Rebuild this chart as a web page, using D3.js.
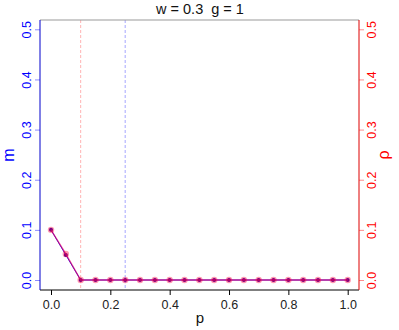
<!DOCTYPE html>
<html>
<head>
<meta charset="utf-8">
<script src="https://cdn.jsdelivr.net/npm/d3@7"></script>
<style>
  body { margin: 0; background: #fff; }
  text { font-family: "Liberation Sans", Arial, sans-serif; }
</style>
</head>
<body>
<svg class="chart" width="399" height="330"></svg>
<script>
// data
let pValues = [0, 0.05, 0.1, 0.15, 0.2, 0.25, 0.3, 0.35, 0.4, 0.45, 0.5,
               0.55, 0.6, 0.65, 0.7, 0.75, 0.8, 0.85, 0.9, 0.95, 1.0];
let mValues = [0.1, 0.05, 0, 0, 0, 0, 0, 0, 0, 0, 0, 0, 0, 0, 0, 0, 0, 0, 0, 0, 0];
let rhoValues = [0.1, 0.052, 0, 0, 0, 0, 0, 0, 0, 0, 0, 0, 0, 0, 0, 0, 0, 0, 0, 0, 0];
let xTicks = [0, 0.2, 0.4, 0.6, 0.8, 1.0];
let yTicks = [0, 0.1, 0.2, 0.3, 0.4, 0.5];
let redLineP = 0.1;
let blueLineP = 0.25;
let title = "w = 0.3  g = 1";

var svg = d3.select(".chart");
let box = {left: 40, right: 359, top: 20, bottom: 290};

var xScale = d3.scaleLinear().domain([0, 1]).range([51, 347.7]);
var yScale = d3.scaleLinear().domain([0, 0.5]).range([280, 29.3]);

// vertical reference lines
svg.append("line")
   .attr("x1", xScale(redLineP)).attr("x2", xScale(redLineP))
   .attr("y1", box.top).attr("y2", box.bottom)
   .attr("stroke", "rgba(255,0,0,0.3)")
   .attr("stroke-dasharray", "3,2");
svg.append("line")
   .attr("x1", xScale(blueLineP)).attr("x2", xScale(blueLineP))
   .attr("y1", box.top).attr("y2", box.bottom)
   .attr("stroke", "rgba(0,0,255,0.35)")
   .attr("stroke-dasharray", "3,2");

// box edges
svg.append("line").attr("x1", box.left).attr("x2", box.right).attr("y1", box.top).attr("y2", box.top)
   .attr("stroke", "#999");
svg.append("line").attr("x1", box.left).attr("x2", box.right).attr("y1", box.bottom).attr("y2", box.bottom)
   .attr("stroke", "#000");
svg.append("line").attr("x1", box.left).attr("x2", box.left).attr("y1", box.top).attr("y2", box.bottom)
   .attr("stroke", "#0000cc");
svg.append("line").attr("x1", box.right).attr("x2", box.right).attr("y1", box.top).attr("y2", box.bottom)
   .attr("stroke", "#dd0000");

// x axis
let xAxis = svg.append("g")
   .attr("transform", `translate(0, ${box.bottom})`)
   .call(d3.axisBottom(xScale).tickValues(xTicks).tickFormat(d3.format(".1f")).tickSize(5).tickSizeOuter(0));
xAxis.select(".domain").remove();
xAxis.selectAll("text").attr("font-size", 12.5).attr("fill", "#222").attr("dy", "0.9em");

// left axis (m)
let yLeft = svg.append("g")
   .attr("transform", `translate(${box.left}, 0)`)
   .call(d3.axisLeft(yScale).tickValues(yTicks).tickFormat(d3.format(".1f")).tickSize(5));
yLeft.select(".domain").remove();
yLeft.selectAll(".tick line").attr("stroke", "rgba(0,0,255,0.45)");
yLeft.selectAll(".tick text")
   .attr("x", null).attr("dy", null)
   .attr("text-anchor", "middle")
   .attr("font-size", 12.5)
   .attr("fill", "#0000ff")
   .attr("transform", "translate(-13, 0) rotate(-90) translate(0, -4)")
   .attr("y", 8);

// right axis (rho)
let yRight = svg.append("g")
   .attr("transform", `translate(${box.right}, 0)`)
   .call(d3.axisRight(yScale).tickValues(yTicks).tickFormat(d3.format(".1f")).tickSize(5));
yRight.select(".domain").remove();
yRight.selectAll(".tick line").attr("stroke", "rgba(255,0,0,0.45)");
yRight.selectAll(".tick text")
   .attr("x", null).attr("dy", null)
   .attr("text-anchor", "middle")
   .attr("font-size", 12.5)
   .attr("fill", "#ff0000")
   .attr("transform", "translate(13, 0) rotate(-90)")
   .attr("y", 4);

// series lines
let seriesLine = d3.line().x((d, i) => xScale(pValues[i])).y(d => yScale(d));
svg.append("path").datum(mValues)
   .attr("fill", "none").attr("stroke", "#0000ff").attr("stroke-width", 1)
   .attr("d", seriesLine);
svg.selectAll(".mPt").data(mValues).enter().append("circle")
   .attr("class", "mPt")
   .attr("cx", (d, i) => xScale(pValues[i]))
   .attr("cy", d => yScale(d))
   .attr("r", 2)
   .attr("fill", "#2200aa");

svg.append("path").datum(rhoValues)
   .attr("fill", "none").attr("stroke", "rgba(240,0,90,0.65)").attr("stroke-width", 1.4)
   .attr("d", seriesLine);
svg.selectAll(".rPt").data(rhoValues).enter().append("circle")
   .attr("class", "rPt")
   .attr("cx", (d, i) => xScale(pValues[i]))
   .attr("cy", d => yScale(d))
   .attr("r", 3.2)
   .attr("fill", "rgba(255,0,60,0.4)");

// labels
svg.append("text")
   .attr("x", 200).attr("y", 14)
   .attr("text-anchor", "middle")
   .attr("font-size", 14.5)
   .attr("fill", "#111")
   .attr("xml:space", "preserve")
   .text(title);

svg.append("text")
   .attr("x", 200).attr("y", 323)
   .attr("text-anchor", "middle")
   .attr("font-size", 15)
   .attr("fill", "#111")
   .text("p");

svg.append("text")
   .attr("transform", "translate(14, 155) rotate(-90)")
   .attr("text-anchor", "middle")
   .attr("font-size", 16)
   .attr("fill", "#0000ff")
   .text("m");

svg.append("text")
   .attr("transform", "translate(389, 155) rotate(-90)")
   .attr("text-anchor", "middle")
   .attr("font-size", 16)
   .attr("fill", "#ff0000")
   .text("ρ");
</script>
</body>
</html>
